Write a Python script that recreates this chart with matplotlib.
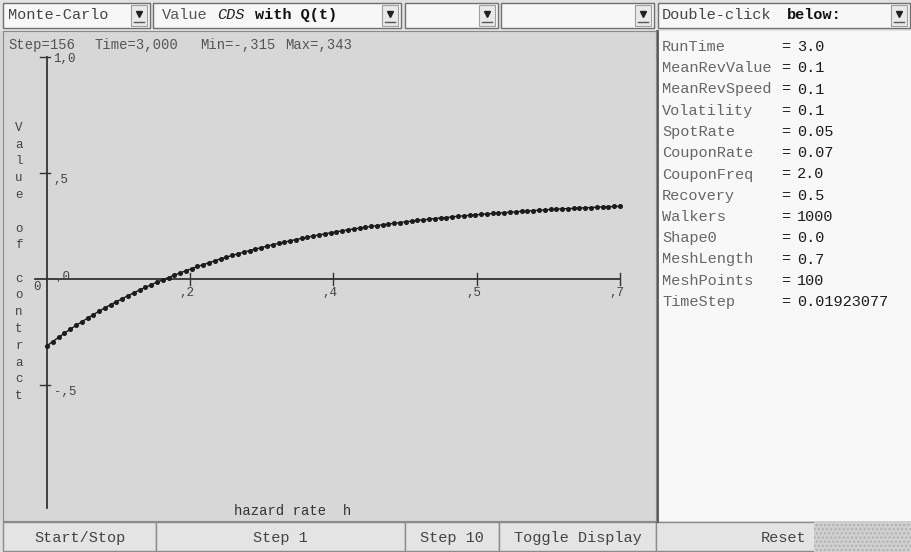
import numpy as np
import matplotlib.pyplot as plt
from matplotlib.patches import Rectangle

plt.rcParams['font.family'] = ['Liberation Mono', 'DejaVu Sans Mono']

# resultado de la simulacion: valor del contrato vs tasa de riesgo h
mesh_length = 0.7
mesh_points = 100
hazard = np.linspace(0, mesh_length, mesh_points)
value = [-0.315, -0.295, -0.275, -0.256, -0.237, -0.219, -0.202, -0.185, -0.168, -0.152,
         -0.136, -0.121, -0.107, -0.092, -0.079, -0.065, -0.052, -0.040, -0.027, -0.015,
         -0.004, 0.007, 0.018, 0.029, 0.039, 0.049, 0.059, 0.068, 0.077, 0.086,
         0.095, 0.103, 0.111, 0.119, 0.127, 0.134, 0.141, 0.148, 0.155, 0.162,
         0.168, 0.174, 0.180, 0.186, 0.192, 0.197, 0.203, 0.208, 0.213, 0.218,
         0.223, 0.227, 0.232, 0.236, 0.240, 0.244, 0.248, 0.252, 0.256, 0.259,
         0.263, 0.266, 0.270, 0.273, 0.276, 0.279, 0.282, 0.285, 0.288, 0.290,
         0.293, 0.296, 0.298, 0.300, 0.303, 0.305, 0.307, 0.309, 0.311, 0.313,
         0.315, 0.317, 0.319, 0.321, 0.323, 0.324, 0.326, 0.328, 0.329, 0.331,
         0.332, 0.333, 0.335, 0.336, 0.337, 0.339, 0.340, 0.341, 0.342, 0.343]

param_names = ['RunTime', 'MeanRevValue', 'MeanRevSpeed', 'Volatility', 'SpotRate',
               'CouponRate', 'CouponFreq', 'Recovery', 'Walkers', 'Shape0',
               'MeshLength', 'MeshPoints', 'TimeStep']
param_values = ['3.0', '0.1', '0.1', '0.1', '0.05', '0.07', '2.0', '0.5', '1000',
                '0.0', '0.7', '100', '0.01923077']

status = ['Step=156', 'Time=3,000', 'Min=-,315', 'Max=,343']
status_x = [8, 95, 200, 285]

x_ticks = [0.175, 0.35, 0.525, 0.7]
x_tick_labels = [',2', ',4', ',5', ',7']
y_ticks = [0.5, -0.5]
y_tick_labels = [',5', '-,5']
y_axis_top = 1.047

buttons = [(3, 156, 'Start/Stop'), (156, 405, 'Step 1'), (405, 499, 'Step 10'),
           (499, 656, 'Toggle Display'), (656, 912, 'Reset')]

fig = plt.figure(figsize=(9.12, 5.52), dpi=100)
fig.patch.set_facecolor('#d6d6d6')
ui = fig.add_axes([0, 0, 1, 1])
ui.set_xlim(0, 912)
ui.set_ylim(552, 0)
ui.axis('off')


def box(x0, y0, x1, y1, fc, ec='#808080', lw=1.0, z=1):
    ui.add_patch(Rectangle((x0, y0), x1 - x0, y1 - y0, facecolor=fc,
                           edgecolor=ec, lw=lw, zorder=z))


def combo(x0, x1):
    box(x0, 3, x1, 28, '#f7f7f7', ec='#707070')
    box(x1 - 19, 5, x1 - 3, 26, '#e9e9e9', ec='#a0a0a0', lw=0.8, z=2)
    ui.plot(x1 - 11, 14, marker='v', ms=4, color='#222222', zorder=3)
    ui.plot([x1 - 16, x1 - 6], [22, 22], color='#555555', lw=1, zorder=3)


# barra superior
box(0, 0, 912, 31, '#e2e2e2', ec='none', z=0)
combo(3, 150)
combo(153, 401)
combo(405, 498)
combo(501, 654)
combo(658, 910)
ui.text(8, 15, 'Monte-Carlo', fontsize=11, color='#444444', va='center', zorder=4)
ui.text(162, 15, 'Value', fontsize=11, color='#555555', va='center', zorder=4)
ui.text(217, 15, 'CDS', fontsize=11, color='#222222', style='italic', va='center', zorder=4)
ui.text(255, 15, 'with Q(t)', fontsize=11, color='#111111', weight='bold', va='center', zorder=4)
ui.text(662, 15, 'Double-click', fontsize=11, color='#444444', va='center', zorder=4)
ui.text(787, 15, 'below:', fontsize=11, color='#111111', weight='bold', va='center', zorder=4)

# panel derecho con los parametros
box(657, 31, 912, 521, '#f8f8f8', ec='none', z=0)
ui.plot([657, 657], [31, 521], color='#555555', lw=2, zorder=2)
for i in range(len(param_names)):
    y = 47 + 21.25 * i
    ui.text(662, y, param_names[i], fontsize=11, color='#666666', va='center')
    ui.text(781, y, '=', fontsize=11, color='#222222', va='center')
    ui.text(797, y, param_values[i], fontsize=11, color='#1a1a1a', va='center')

# botones
box(0, 521, 912, 552, '#dedede', ec='none', z=0)
for x0, x1, label in buttons:
    box(x0, 522, x1, 551, '#e4e4e4', ec='#8c8c8c', lw=1)
    ui.text((x0 + x1) / 2, 538, label, fontsize=11, color='#444444',
            ha='center', va='center', zorder=4)
ui.add_patch(Rectangle((814, 522), 98, 30, facecolor='#cfcfcf', edgecolor='#b0b0b0',
                       hatch='....', lw=0, zorder=3))

# grafico
px_per_h = 573 / mesh_length
px_per_v = 212.0
x_lo = (3 - 47) / px_per_h
x_hi = (656 - 47) / px_per_h
y_top = (279 - 31) / px_per_v
y_bot = (279 - 521) / px_per_v

ax = fig.add_axes([3 / 912, (552 - 521) / 552, (656 - 3) / 912, (521 - 31) / 552])
ax.set_xlim(x_lo, x_hi)
ax.set_ylim(y_bot, y_top)
ax.set_facecolor('#d7d7d7')
ax.set_xticks([])
ax.set_yticks([])
for s in ax.spines.values():
    s.set_color('#8a8a8a')

for i in range(len(status)):
    ax.text(x_lo + (status_x[i] - 3) / px_per_h, y_top - 14 / px_per_v, status[i],
            fontsize=10, color='#555555', va='center')

ax.plot([-0.015, mesh_length], [0, 0], color='#333333', lw=1.3)
ax.plot([0, 0], [-1.08, y_axis_top], color='#333333', lw=1.3)
for t, lab in zip(x_ticks, x_tick_labels):
    ax.plot([t, t], [-0.03, 0.03], color='#333333', lw=1)
    ax.text(t - 0.004, -0.065, lab, fontsize=9, color='#444444', ha='center', va='center')
for t, lab in zip(y_ticks, y_tick_labels):
    ax.plot([-0.008, 0.004], [t, t], color='#333333', lw=1)
    ax.text(0.008, t - 0.035, lab, fontsize=9, color='#444444', va='center')
ax.plot([-0.008, 0.004], [y_axis_top, y_axis_top], color='#333333', lw=1)
ax.text(0.008, y_axis_top - 0.01, '1,0', fontsize=9, color='#444444', va='center')
ax.text(-0.012, -0.04, '0', fontsize=9, color='#444444', ha='center', va='center')
ax.text(0.01, 0.01, ',0', fontsize=9, color='#444444', va='center')

for i, ch in enumerate('Value of contract'):
    ax.text(x_lo + 16 / px_per_h, (279 - 128 - 16.75 * i) / px_per_v, ch,
            fontsize=9, color='#444444', ha='center', va='center')
ax.text(0.3, (279 - 511) / px_per_v, 'hazard rate  h', fontsize=10,
        color='#333333', ha='center', va='center')

ax.plot(hazard, value, '-o', color='#1c1c1c', lw=1.0, ms=2.6)

plt.savefig('out.png', dpi=100, facecolor=fig.get_facecolor())
